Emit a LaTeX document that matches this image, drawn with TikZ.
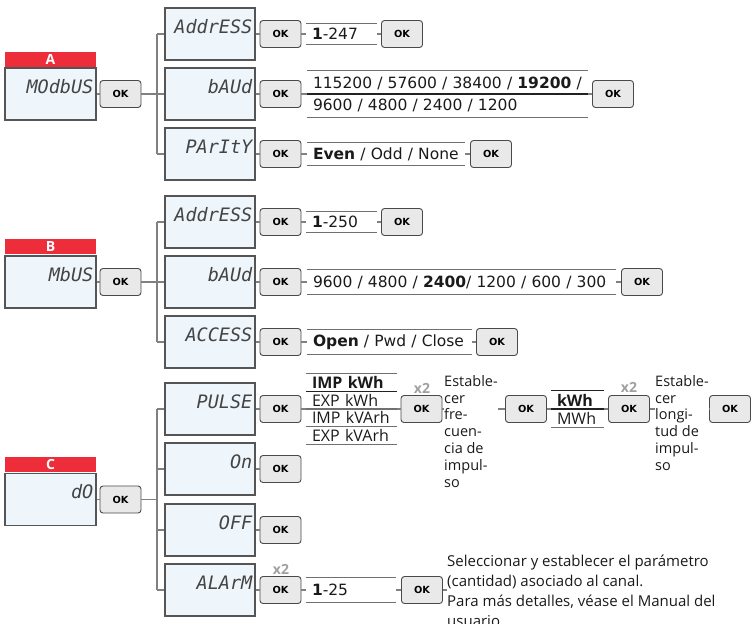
\documentclass[tikz,border=0pt]{standalone}
\usepackage{fontspec}
\setmainfont{Open Sans}
\newfontfamily\vfont{DejaVu Sans}
\newfontfamily\segfont{DejaVu Sans Mono}
\usetikzlibrary{calc}
\definecolor{abbred}{HTML}{ED2E3A}
\definecolor{dispfill}{HTML}{EEF6FC}
\definecolor{dispbd}{HTML}{555555}
\definecolor{segcol}{HTML}{444444}
\definecolor{okfill}{HTML}{E9E9E9}
\definecolor{okbd}{HTML}{4A4A4A}
\definecolor{conncol}{HTML}{808080}
\definecolor{lcol}{HTML}{707070}
\definecolor{ldk}{HTML}{222222}
\definecolor{xcol}{HTML}{A0A0A0}
\definecolor{txt}{HTML}{1A1A1A}
\newcommand\lstlines[1]{\draw[lline] (#1.north west) -- (#1.north east) (#1.south west) -- (#1.south east);}
\begin{document}
\begin{tikzpicture}[x=1pt,y=-1pt,
  disp/.style={draw=dispbd, fill=dispfill, line width=1.1pt, minimum width=90pt, minimum height=52pt, inner sep=0pt},
  dtext/.style={font=\segfont\itshape\fontsize{18.5}{18.5}\selectfont, text=segcol, inner sep=0pt, anchor=east},
  redbar/.style={fill=abbred, minimum width=91pt, minimum height=15pt, inner sep=0pt, text=white, font=\bfseries\fontsize{14}{14}\selectfont},
  okb/.style={draw=okbd, fill=okfill, rounded corners=3pt, line width=0.9pt, minimum width=41pt, minimum height=27pt, inner sep=0pt, font=\vfont\bfseries\fontsize{9.8}{9.8}\selectfont},
  conn/.style={draw=conncol, line width=1.1pt},
  lline/.style={draw=lcol, line width=1.3pt},
  ldark/.style={draw=ldk, line width=1.3pt},
  lst/.style={inner xsep=6pt, inner ysep=0pt, text=txt, font=\vfont\fontsize{15.5}{22}\selectfont, align=left},
  lsto/.style={inner xsep=6pt, inner ysep=0pt, text=txt, font=\fontsize{16}{17.5}\selectfont, align=left},
  xtwo/.style={font=\bfseries\fontsize{14}{14}\selectfont, text=xcol, inner sep=0pt},
  est/.style={font=\fontsize{14.5}{16.8}\selectfont, text=txt, align=left, inner sep=0pt, anchor=north west},
  desc/.style={font=\fontsize{15}{20}\selectfont, text=txt, align=left, inner sep=0pt, anchor=north west},
]
\useasboundingbox (0,0) rectangle (751,623);

% ================= A =================
\node[redbar] (redA) at (50.5,59.5) {A};
\node[disp, minimum width=91pt] (dispA) at (50.5,94) {};
\node[dtext] (dispAt) at ($(dispA.north east)+(-3,19)$) {MOdbUS};
\node[okb] (okA) at (120.5,94) {OK};
\coordinate (sA) at (157,94);
\node[disp] (addrA) at (210,34) {};
\node[dtext] (addrAt) at ($(addrA.north east)+(-3,19)$) {AddrESS};
\node[disp] (baudA) at (210,94) {};
\node[dtext] (baudAt) at ($(baudA.north east)+(-3,19)$) {bAUd};
\node[disp] (parA) at (210,154) {};
\node[dtext] (parAt) at ($(parA.north east)+(-3,19)$) {PArItY};

\draw[conn] (dispA) -- (okA) -- (sA);
\draw[conn] (addrA.west -| sA) -- (parA.west -| sA);
\foreach \n in {addrA,baudA,parA} \draw[conn] (\n.west -| sA) -- (\n.west);

\node[okb] (ok1A) at (280.5,34) {OK};
\node[lst, minimum height=21pt, text width=59pt] (l1A) at (341.5,34) {\mbox{\textbf{1}-247}};
\node[okb] (ok2A) at (402,34) {OK};
\lstlines{l1A}
\draw[conn] (addrA) -- (ok1A) -- (l1A) -- (ok2A);

\node[okb] (ok3A) at (280.5,94) {OK};
\node[lst, minimum height=47pt, text width=269pt] (l2A) at (447.5,94) {\mbox{115200 / 57600 / 38400 / \textbf{19200} /}\\\mbox{9600 / 4800 / 2400 / 1200}};
\node[okb] (ok4A) at (613,94) {OK};
\lstlines{l2A}
\draw[ldark] (l2A.west) -- (l2A.east);
\draw[conn] (baudA) -- (ok3A) -- (l2A) -- (ok4A);

\node[okb] (ok5A) at (280.5,154) {OK};
\node[lst, minimum height=23pt, text width=146pt] (l3A) at (386,154) {\mbox{\textbf{Even} / Odd / None}};
\node[okb] (ok6A) at (491,154) {OK};
\lstlines{l3A}
\draw[conn] (parA) -- (ok5A) -- (l3A) -- (ok6A);

% ================= B =================
\node[redbar] (redB) at (50.5,246) {B};
\node[disp, minimum width=91pt] (dispB) at (50.5,282) {};
\node[dtext] (dispBt) at ($(dispB.north east)+(-3,19)$) {MbUS};
\node[okb] (okB) at (120.5,282) {OK};
\coordinate (sB) at (157,282);
\node[disp] (addrB) at (210,222) {};
\node[dtext] (addrBt) at ($(addrB.north east)+(-3,19)$) {AddrESS};
\node[disp] (baudB) at (210,282) {};
\node[dtext] (baudBt) at ($(baudB.north east)+(-3,19)$) {bAUd};
\node[disp] (accB) at (210,342) {};
\node[dtext] (accBt) at ($(accB.north east)+(-3,19)$) {ACCESS};

\draw[conn] (dispB) -- (okB) -- (sB);
\draw[conn] (addrB.west -| sB) -- (accB.west -| sB);
\foreach \n in {addrB,baudB,accB} \draw[conn] (\n.west -| sB) -- (\n.west);

\node[okb] (ok1B) at (280.5,222) {OK};
\node[lst, minimum height=21pt, text width=59pt] (l1B) at (341.5,222) {\mbox{\textbf{1}-250}};
\node[okb] (ok2B) at (402,222) {OK};
\lstlines{l1B}
\draw[conn] (addrB) -- (ok1B) -- (l1B) -- (ok2B);

\node[okb] (ok3B) at (280.5,282) {OK};
\node[lst, minimum height=24pt, text width=297pt] (l2B) at (461.5,282) {\mbox{9600 / 4800 / \textbf{2400}/ 1200 / 600 / 300}};
\node[okb] (ok4B) at (642,282) {OK};
\lstlines{l2B}
\draw[conn] (baudB) -- (ok3B) -- (l2B) -- (ok4B);

\node[okb] (ok5B) at (280.5,342) {OK};
\node[lst, minimum height=24pt, text width=153pt] (l3B) at (389.5,342) {\mbox{\textbf{Open} / Pwd / Close}};
\node[okb] (ok6B) at (497,342) {OK};
\lstlines{l3B}
\draw[conn] (accB) -- (ok5B) -- (l3B) -- (ok6B);

% ================= C =================
\node[redbar] (redC) at (50.5,464.5) {C};
\node[disp, minimum width=91pt] (dispC) at (50.5,499.5) {};
\node[dtext] (dispCt) at ($(dispC.north east)+(-3,19)$) {dO};
\node[okb] (okC) at (120.5,499.5) {OK};
\coordinate (sC) at (157,499.5);
\node[disp] (pulseC) at (210,409) {};
\node[dtext] (pulseCt) at ($(pulseC.north east)+(-3,19)$) {PULSE};
\node[disp] (onC) at (210,469) {};
\node[dtext] (onCt) at ($(onC.north east)+(-3,19)$) {On};
\node[disp] (offC) at (210,530) {};
\node[dtext] (offCt) at ($(offC.north east)+(-3,19)$) {OFF};
\node[disp] (almC) at (210,590) {};
\node[dtext] (almCt) at ($(almC.north east)+(-3,19)$) {ALArM};

\draw[conn] (dispC) -- (okC) -- (sC);
\draw[conn] (pulseC.west -| sC) -- (almC.west -| sC);
\foreach \n in {pulseC,onC,offC,almC} \draw[conn] (\n.west -| sC) -- (\n.west);

% PULSE row
\node[okb] (ok1C) at (280.5,409) {OK};
\node[lsto, minimum height=70pt, text width=79pt] (lP) at (351.5,409) {\mbox{\textbf{IMP kWh}}\\\mbox{EXP kWh}\\\mbox{IMP kVArh}\\\mbox{EXP kVArh}};
\lstlines{lP}
\draw[ldark] ($(lP.north west)+(0,17.5)$) -- ($(lP.north east)+(0,17.5)$);
\draw[lline] (lP.west) -- (lP.east);
\draw[lline] ($(lP.south west)+(0,-17.5)$) -- ($(lP.south east)+(0,-17.5)$);
\node[xtwo] (x2a) at (422,388) {x2};
\node[okb] (ok2C) at (421.5,409) {OK};
\draw[conn] (pulseC) -- (ok1C) -- (lP) -- (ok2C);
\node[est] (e1) at (444,375) {Estable-\\cer\\fre-\\cuen-\\cia de\\impul-\\so};
\node[okb] (ok3C) at (526,409) {OK};
\draw[conn] (ok2C.east) -- (ok2C.east -| e1.west);
\draw[conn] (ok3C.west -| e1.east) -- (ok3C.west);
\node[lsto, minimum height=36pt, text width=41pt, font=\fontsize{16}{18}\selectfont] (lK) at (577.5,409) {\mbox{\textbf{kWh}}\\\mbox{MWh}};
\draw[ldark] (lK.north west) -- (lK.north east);
\draw[lline] (lK.south west) -- (lK.south east);
\draw[ldark] (lK.west) -- (lK.east);
\node[xtwo] (x2b) at (629,387) {x2};
\node[okb] (ok4C) at (629,409) {OK};
\draw[conn] (ok3C) -- (lK) -- (ok4C);
\node[est] (e2) at (655,375) {Estable-\\cer\\longi-\\tud de\\impul-\\so};
\node[okb] (ok5C) at (730,409) {OK};
\draw[conn] (ok4C.east) -- (ok4C.east -| e2.west);
\draw[conn] (ok5C.west -| e2.east) -- (ok5C.west);

% On / OFF rows
\node[okb] (ok6C) at (280.5,469) {OK};
\draw[conn] (onC) -- (ok6C);
\node[okb] (ok7C) at (280.5,530) {OK};
\draw[conn] (offC) -- (ok7C);

% ALArM row
\node[xtwo] (x2c) at (281,569) {x2};
\node[okb] (ok8C) at (280.5,590) {OK};
\node[lst, minimum height=24pt, text width=78pt] (l1C) at (351,590) {\mbox{\textbf{1}-25}};
\lstlines{l1C}
\node[okb] (ok9C) at (422,590) {OK};
\draw[conn] (almC) -- (ok8C) -- (l1C) -- (ok9C);
\node[desc] (dsc) at (447,555) {Seleccionar y establecer el parámetro\\(cantidad) asociado al canal.\\Para más detalles, véase el Manual del\\usuario};
\draw[conn] (ok9C.east) -- (ok9C.east -| dsc.west);
\end{tikzpicture}
\end{document}
